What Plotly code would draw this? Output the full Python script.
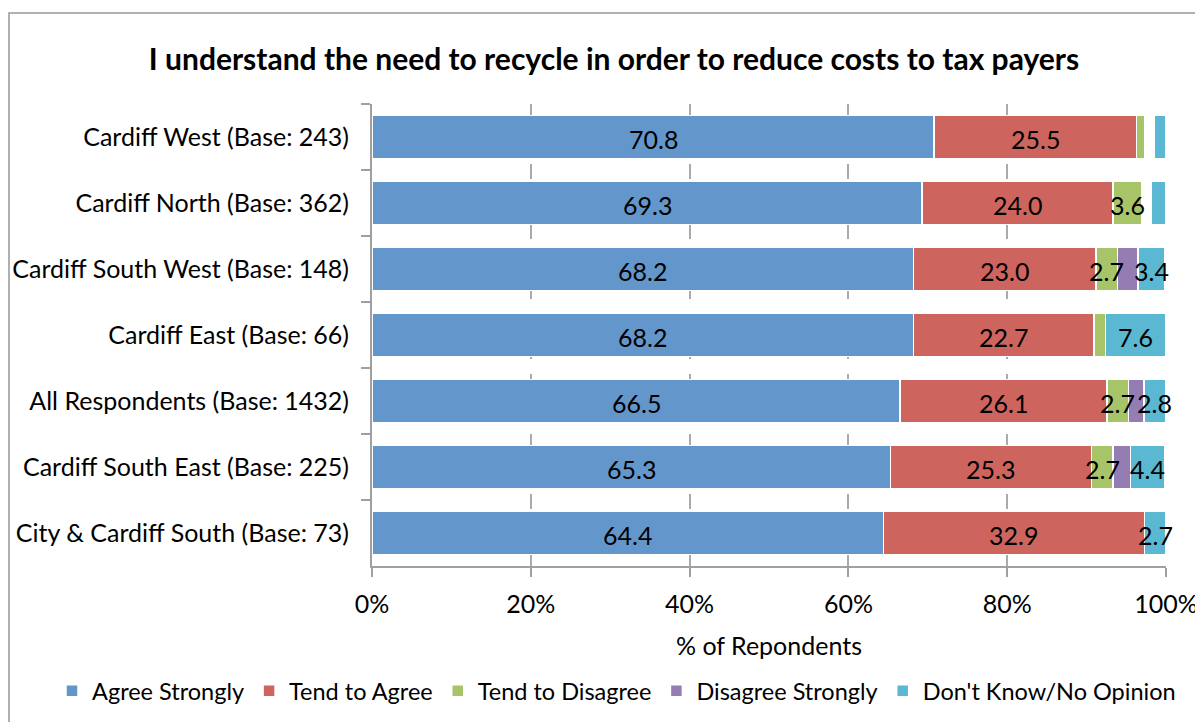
import plotly.graph_objects as go

categories = [
    "Cardiff West (Base: 243)",
    "Cardiff North (Base: 362)",
    "Cardiff South West (Base: 148)",
    "Cardiff East (Base: 66)",
    "All Respondents (Base: 1432)",
    "Cardiff South East (Base: 225)",
    "City & Cardiff South (Base: 73)",
]
agree_strongly = [70.8, 69.3, 68.2, 68.2, 66.5, 65.3, 64.4]
tend_to_agree = [25.5, 24.0, 23.0, 22.7, 26.1, 25.3, 32.9]
tend_to_disagree = [1.0, 3.6, 2.7, 1.5, 2.7, 2.7, 0.0]
disagree_strongly = [0.0, 0.0, 2.6, 0.0, 1.9, 2.2, 0.0]
unfilled_gap = [1.2, 1.3, 0.0, 0.0, 0.0, 0.0, 0.0]
dont_know = [1.5, 1.8, 3.4, 7.6, 2.8, 4.4, 2.7]

series = [
    ("Agree Strongly", agree_strongly, "rgb(99,151,204)", True),
    ("Tend to Agree", tend_to_agree, "rgb(205,101,94)", True),
    ("Tend to Disagree", tend_to_disagree, "rgb(167,196,104)", True),
    ("Disagree Strongly", disagree_strongly, "rgb(148,125,178)", False),
    ("", unfilled_gap, "rgba(0,0,0,0)", None),
    ("Don't Know/No Opinion", dont_know, "rgb(91,184,210)", True),
]

FONT = "Lato"
FS = 25
OFF = 8  # the page draws the figure 8px from the window's top-left corner
W, H = 1203, 722
L, T = 372 - OFF, 104 - OFF
pw, ph = 794, 462
R, B = W - L - pw, H - T - ph


def fy(ref_y):
    """paper y for a reference-window pixel row"""
    return 1 - (ref_y - OFF - T) / ph


def fx(ref_x):
    return (ref_x - OFF - L) / pw


fig = go.Figure()
cum = [0.0] * len(categories)
for name, vals, color, lab in series:
    if lab is None:
        fig.add_trace(go.Bar(y=categories, x=vals, orientation="h", name="gap",
                             marker=dict(color=color, line=dict(width=0)),
                             showlegend=False, hoverinfo="skip"))
    else:
        fig.add_trace(go.Bar(
            y=categories, x=vals, orientation="h", name=name,
            marker=dict(color=color, line=dict(color="white", width=1.5)),
        ))
    for i, v in enumerate(vals):
        if lab and v >= 2.65:
            # value labels sit on top of every segment (annotation layer)
            fig.add_annotation(x=cum[i] + v / 2, y=categories[i], xref="x", yref="y",
                               text=f"{v:.1f}", showarrow=False, yshift=-2,
                               font=dict(family=FONT, size=FS, color="black"))
        cum[i] += v

# outer chart border
fig.add_shape(type="rect", xref="paper", yref="paper",
              x0=fx(9), x1=fx(W + 20),
              y0=fy(H + 20), y1=fy(13),
              line=dict(color="rgb(150,150,150)", width=1.5), fillcolor="rgba(0,0,0,0)",
              layer="below")

fig.update_layout(
    width=W, height=H,
    margin=dict(l=L, r=R, t=T, b=B, autoexpand=False),
    barmode="stack",
    bargap=0.35,
    plot_bgcolor="white", paper_bgcolor="white",
    title=dict(text="<b>I understand the need to recycle in order to reduce costs to tax payers</b>",
               x=(614 - OFF) / W, xanchor="center", xref="container",
               y=1 - (59 - OFF) / H, yanchor="middle",
               font=dict(family=FONT, size=30, color="black")),
    xaxis=dict(range=[0, 100], tickvals=[0, 20, 40, 60, 80, 100],
               ticktext=["0%", "20%", "40%", "60%", "80%", "100%"],
               showgrid=True, gridcolor="rgb(170,170,170)", griddash="longdash", gridwidth=1.5,
               showline=True, linecolor="rgb(160,160,160)", linewidth=2,
               ticks="outside", ticklen=9, tickcolor="rgb(160,160,160)", tickwidth=2,
               ticklabelstandoff=6, automargin=False,
               tickfont=dict(family=FONT, size=FS, color="black"),
               title=dict(text="% of Repondents", font=dict(family=FONT, size=FS, color="black"),
                          standoff=20),
               zeroline=False, fixedrange=True),
    yaxis=dict(autorange="reversed", showline=True, linecolor="rgb(160,160,160)", linewidth=2,
               ticks="outside", tickson="boundaries", ticklen=9, tickcolor="rgb(160,160,160)",
               tickwidth=2, tickfont=dict(family=FONT, size=FS, color="black"),
               ticklabelstandoff=16, automargin=False, fixedrange=True),
    legend=dict(orientation="h", x=fx(52), xanchor="left", xref="paper",
                y=fy(691), yref="paper", yanchor="middle",
                font=dict(family=FONT, size=23.5, color="black"),
                itemwidth=30, traceorder="normal"),
    showlegend=True,
)

fig.write_html("out.html")
